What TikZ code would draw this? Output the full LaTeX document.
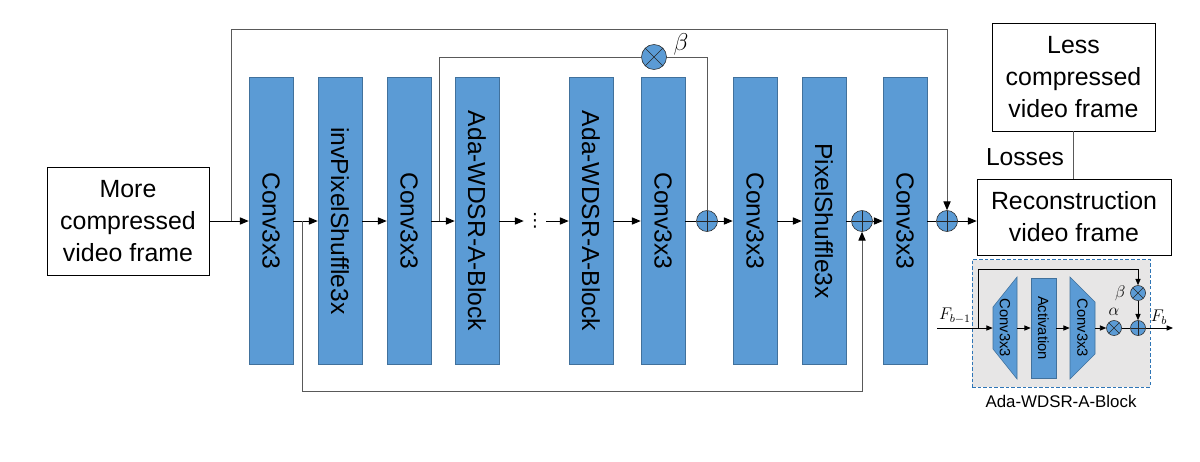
\documentclass[tikz,border=0pt]{standalone}
\usepackage[no-math]{fontspec}
\setmainfont{Liberation Sans}
\newfontfamily\symfont{DejaVu Sans}
\usepackage{graphicx}
\usetikzlibrary{arrows.meta,positioning,calc}

\definecolor{blockblue}{RGB}{91,155,213}
\definecolor{blockedge}{RGB}{65,113,156}
\definecolor{insetgray}{RGB}{231,230,230}
\definecolor{insetedge}{RGB}{46,117,182}

\tikzset{
  layer/.style={draw=blockedge, fill=blockblue, inner sep=0pt, minimum width=1.1cm, minimum height=7.175cm, font=\fontsize{17.5}{21}\selectfont},
  framebox/.style={draw=black, fill=white, align=center, inner sep=0pt, font=\fontsize{17.7}{22.7}\selectfont},
  trap/.style={draw=blockedge, fill=blockblue},
  minitext/.style={inner sep=0pt, font=\fontsize{10.5}{12}\selectfont},
  addop/.style={circle, draw=black!85, fill=blockblue, inner sep=0pt, minimum size=0.525cm,
    path picture={\draw[black!85] (path picture bounding box.north) -- (path picture bounding box.south)
      (path picture bounding box.west) -- (path picture bounding box.east);}},
  mulop/.style={circle, draw=black!85, fill=blockblue, inner sep=0pt, minimum size=0.525cm,
    path picture={\draw[black!85] (path picture bounding box.north west) -- (path picture bounding box.south east)
      (path picture bounding box.north east) -- (path picture bounding box.south west);}},
  flow/.style={line width=0.7pt, -{Triangle[length=2.2mm,width=1.8mm]}},
  plain/.style={line width=0.7pt},
  skip/.style={line width=0.7pt, draw=black!65},
  skipflow/.style={line width=0.7pt, draw=black!65, -{Triangle[length=2.2mm,width=1.8mm,color=black]}},
  thinflow/.style={line width=0.6pt, -{Triangle[length=1.6mm,width=1.3mm]}},
  thinline/.style={line width=0.6pt},
}

\begin{document}
\begin{tikzpicture}[x=0.025cm, y=-0.025cm]
    \useasboundingbox (0,0) rectangle (1200,461);

    % Input frame on the left
    \node[framebox, minimum width=4.05cm, minimum height=2.7cm] (inframe) at (128,221) {More\\compressed\\video frame};

    % Blue layers of the network
    \node[layer] (conv1) at (271,221) {\rotatebox{-90}{Conv3x3}};
    \node[layer] (ipshuffle) at (340,221) {\rotatebox{-90}{invPixelShuffle3x}};
    \node[layer] (conv2) at (409,221) {\rotatebox{-90}{Conv3x3}};
    \node[layer] (ada1) at (477,221) {\rotatebox{-90}{Ada-WDSR-A-Block}};
    \node[inner sep=0pt, minimum width=0.55cm, font=\symfont\fontsize{13}{15}\selectfont] (dots) at (535,221) {⋮};
    \node[layer] (ada2) at (591,221) {\rotatebox{-90}{Ada-WDSR-A-Block}};
    \node[layer] (conv3) at (663,221) {\rotatebox{-90}{Conv3x3}};
    \node[addop] (add1) at (707,221) {};
    \node[layer] (conv4) at (755,221) {\rotatebox{-90}{Conv3x3}};
    \node[layer] (pshuffle) at (824,221) {\rotatebox{-90}{PixelShuffle3x}};
    \node[addop] (add2) at (862,221) {};
    \node[layer] (conv5) at (905,221) {\rotatebox{-90}{Conv3x3}};
    \node[addop] (add3) at (947,221) {};

    % Output frames and the loss between them
    \node[framebox, minimum width=4.075cm, minimum height=2.7cm] (target) at (1073.5,77) {Less\\compressed\\video frame};
    \node[framebox, minimum width=4.85cm, minimum height=1.9cm] (recon) at (1074,217) {Reconstruction\\video frame};
    \draw[skip, line width=0.5pt] (target.south) -- (target.south |- recon.north);
    \node[font=\fontsize{17.5}{21}\selectfont] (losses) at (1025,157) {Losses};

    % Main data flow
    \draw[flow] (inframe) -- (conv1);
    \draw[flow] (conv1) -- (ipshuffle);
    \draw[flow] (ipshuffle) -- (conv2);
    \draw[flow] (conv2) -- (ada1);
    \draw[flow] (ada1) -- (dots);
    \draw[flow] (dots) -- (ada2);
    \draw[flow] (ada2) -- (conv3);
    \draw[plain] (conv3) -- (add1);
    \draw[flow] (add1) -- (conv4);
    \draw[flow] (conv4) -- (pshuffle);
    \draw[plain] (pshuffle) -- (add2);
    \draw[flow] (add2) -- (conv5);
    \draw[plain] (conv5) -- (add3);
    \draw[flow] (add3) -- (add3 -| recon.west);

    % Long skip over the whole network
    \coordinate (topsplit) at (231,221);
    \coordinate (topturn) at (947,29);
    \draw[skipflow] (topsplit) |- (topturn) -- (add3);

    % Weighted skip over the residual blocks
    \coordinate (betasplit) at (439,221);
    \node[mulop, minimum size=0.625cm] (gate) at (654,57) {};
    \node[font=\fontsize{17}{20}\selectfont] (betamain) at (681,44) {$\beta$};
    \draw[skip] (betasplit) |- (gate);
    \draw[skip] (gate) -| (add1);

    % Skip from the first layer to the upsampling
    \coordinate (upsplit) at (302,221);
    \coordinate (upturn) at (862,391);
    \draw[skipflow] (upsplit) |- (upturn) -- (add2);

    % Inset with the inside of one block
    \node[draw=insetedge, dash pattern=on 2.5pt off 1.5pt, fill=insetgray, line width=0.7pt, inner sep=0pt,
      minimum width=4.45cm, minimum height=3.175cm] (inset) at (1061,323.5) {};
    \node[font=\fontsize{12}{14}\selectfont, below=0.08cm of inset] (insetname) {Ada-WDSR-A-Block};

    \draw[trap] (993,307) -- (1017,277) -- (1017,379) -- (993,349) -- cycle;
    \node[minitext, minimum width=0.6cm] (tconv1) at (1005,328) {\rotatebox{-90}{Conv3x3}};
    \node[layer, minitext, minimum width=0.625cm, minimum height=2.5cm] (act) at (1043.5,328) {\rotatebox{-90}{Activation}};
    \draw[trap] (1070,277) -- (1095,302) -- (1095,354) -- (1070,379) -- cycle;
    \node[minitext, minimum width=0.625cm] (tconv2) at (1082.5,328) {\rotatebox{-90}{Conv3x3}};
    \node[mulop, minimum size=0.375cm] (alphagate) at (1114,328) {};
    \node[addop, minimum size=0.375cm] (blocksum) at (1138,328) {};
    \node[mulop, minimum size=0.375cm] (betagate) at (1138,293) {};

    \coordinate (fin) at (937,328);
    \coordinate (fout) at (1173,328);
    \coordinate (insplit) at (978,328);
    \coordinate (inturn) at (1138,269);
    \draw[thinflow] (fin) -- (tconv1);
    \draw[thinflow] (tconv1) -- (act);
    \draw[thinflow] (act) -- (tconv2);
    \draw[thinflow] (tconv2) -- (alphagate);
    \draw[thinline] (alphagate) -- (blocksum);
    \draw[thinflow] (blocksum) -- (fout);
    \draw[thinflow] (insplit) |- (inturn) -- (betagate);
    \draw[thinflow] (betagate) -- (blocksum);

    \node[font=\fontsize{12}{14}\selectfont] (fprev) at (955,316) {$F_{b-1}$};
    \node[font=\fontsize{12}{14}\selectfont] (fnext) at (1159,317) {$F_b$};
    \node[font=\fontsize{12}{14}\selectfont, above=0pt of alphagate] (alphalabel) {$\alpha$};
    \node[font=\fontsize{12}{14}\selectfont, left=0pt of betagate] (betalabel) {$\beta$};

\end{tikzpicture}
\end{document}
